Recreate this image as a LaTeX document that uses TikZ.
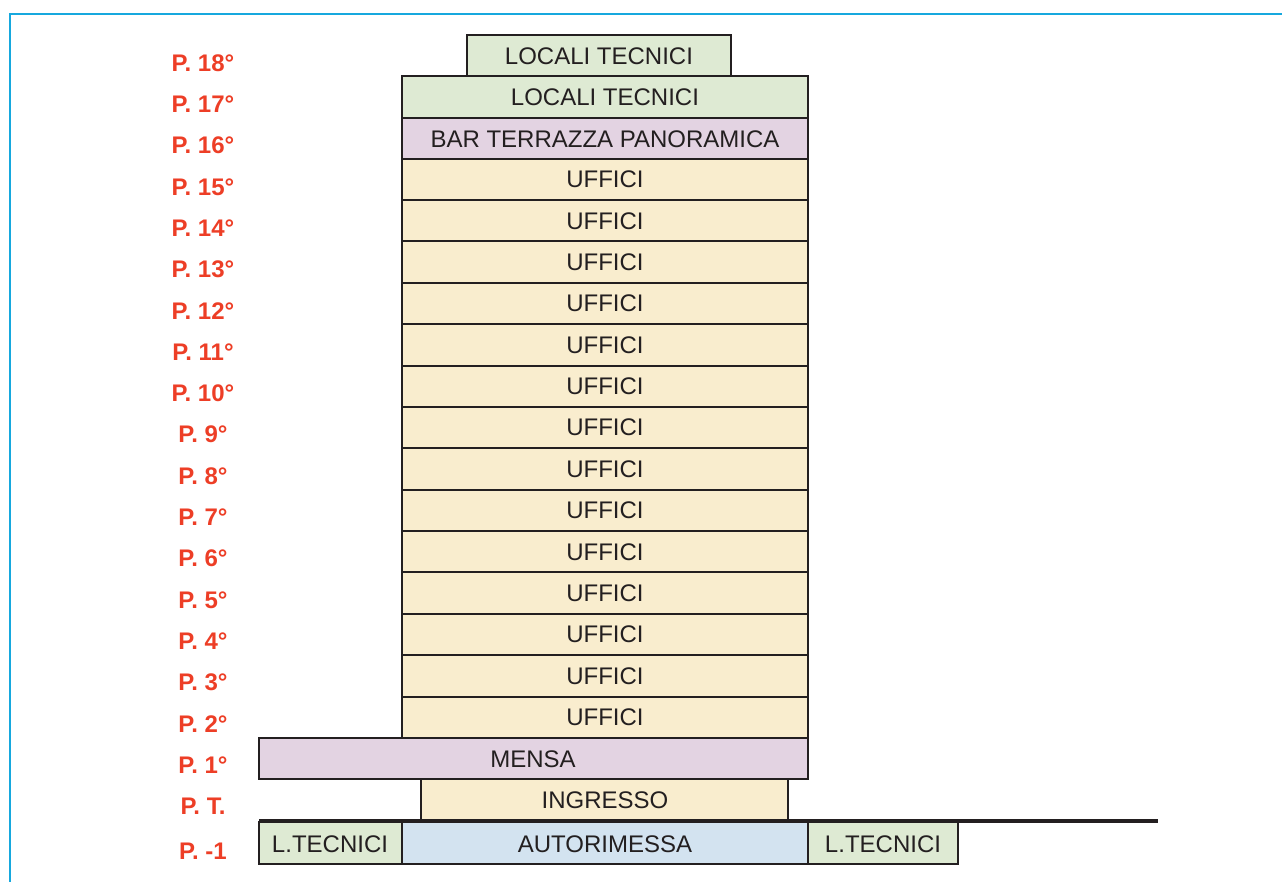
\documentclass[tikz,border=0pt]{standalone}
\usepackage{fontspec}
\setmainfont{Liberation Sans}
\usepackage{xcolor}
\usepackage{tikz}

\definecolor{frameblue}{RGB}{22,168,222}
\definecolor{floorred}{RGB}{237,62,38}
\definecolor{tecnici}{RGB}{222,234,211}
\definecolor{lilla}{RGB}{227,211,226}
\definecolor{crema}{RGB}{249,237,206}
\definecolor{garage}{RGB}{211,227,240}
\definecolor{ink}{RGB}{35,31,32}

\begin{document}
\begin{tikzpicture}[x=0.5pt, y=-0.5pt,
	floor/.style={draw=ink, line width=1pt},
	use/.style={text=ink, font=\fontsize{12}{14}\selectfont},
	level/.style={text=floorred, font=\fontsize{12}{14}\selectfont\bfseries}]
		\useasboundingbox (0,0) rectangle (1282,882);
		% frame
		\draw[frameblue, line width=1pt] (10,882) -- (10,14) -- (1282,14);
		% top floors
		\filldraw[floor, fill=tecnici] (467,35) rectangle (731,76);
		\node[use] (f18) at (599,56) {LOCALI TECNICI};
		\filldraw[floor, fill=tecnici] (402,76) rectangle (808,118);
		\node[use] (f17) at (605,97) {LOCALI TECNICI};
		\filldraw[floor, fill=lilla] (402,118) rectangle (808,160);
		\node[use] (f16) at (605,139) {BAR TERRAZZA PANORAMICA};
		% offices
		\foreach \n in {2,...,15} {
			\filldraw[floor, fill=crema] (402,{76+(17-\n)*41.375}) rectangle (808,{76+(18-\n)*41.375});
			\node[use] (f\n) at (605,{96.7+(17-\n)*41.375}) {UFFICI};
		}
		\filldraw[floor, fill=lilla] (259,738) rectangle (808,779);
		\node[use] (f1) at (533,759) {MENSA};
		\filldraw[floor, fill=crema] (421,779) rectangle (788,821);
		\node[use] (ft) at (605,800) {INGRESSO};
		% basement
		\filldraw[floor, fill=tecnici] (259,822) rectangle (402,864);
		\node[use] (bl) at (330,844) {L.TECNICI};
		\filldraw[floor, fill=garage] (402,822) rectangle (808,864);
		\node[use] (bg) at (605,844) {AUTORIMESSA};
		\filldraw[floor, fill=tecnici] (808,822) rectangle (958,864);
		\node[use] (br) at (883,844) {L.TECNICI};
		% ground line
		\draw[ink, line width=2pt] (259,821) -- (1158,821);
		% floor numbers
		\foreach \n [count=\i from 0] in {18,17,...,1} {
			\node[level] (p\n) at (203,{63+\i*41.3}) {P. \n°};
		}
		\node[level] (pt) at (203,806) {P. T.};
		\node[level] (pb) at (203,851) {P. -1};
\end{tikzpicture}
\end{document}
